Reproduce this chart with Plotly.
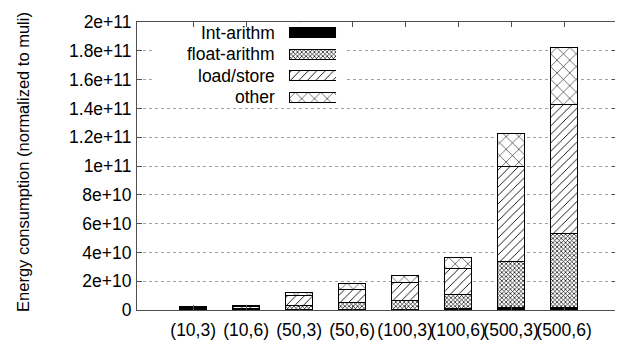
import plotly.graph_objects as go

categories = ["(10,3)", "(10,6)", "(50,3)", "(50,6)", "(100,3)", "(100,6)", "(500,3)", "(500,6)"]
int_arithm = [0.005e10, 0.008e10, 0.02e10, 0.04e10, 0.05e10, 0.08e10, 0.15e10, 0.15e10]
float_arithm = [0.065e10, 0.09e10, 0.31e10, 0.49e10, 0.64e10, 1.01e10, 3.23e10, 5.13e10]
load_store = [0.13e10, 0.15e10, 0.66e10, 0.91e10, 1.23e10, 1.78e10, 6.62e10, 9.0e10]
other = [0.055e10, 0.08e10, 0.24e10, 0.39e10, 0.51e10, 0.79e10, 2.27e10, 3.96e10]
series_names = ["Int-arithm", "float-arithm", "load/store", "other"]
y_tickvals = [0, 2e10, 4e10, 6e10, 8e10, 1e11, 1.2e11, 1.4e11, 1.6e11, 1.8e11, 2e11]
y_ticktext = ["0", "2e+10", "4e+10", "6e+10", "8e+10", "1e+11", "1.2e+11", "1.4e+11", "1.6e+11", "1.8e+11", "2e+11"]

FONT = "Liberation Sans, Arial, sans-serif"
FS = 17.5
patterns = [
    dict(shape="", fillmode="overlay"),
    dict(shape="x", size=3, solidity=0.4, fgcolor="black", bgcolor="white", fillmode="replace"),
    dict(shape="/", size=6, solidity=0.15, fgcolor="black", bgcolor="white", fillmode="replace"),
    dict(shape="x", size=9, solidity=0.12, fgcolor="black", bgcolor="white", fillmode="replace"),
]
colors = ["black", "white", "white", "white"]
data = [int_arithm, float_arithm, load_store, other]

fig = go.Figure()
for name, vals, pat, col in zip(series_names, data, patterns, colors):
    fig.add_trace(go.Bar(
        x=categories, y=vals, name=name, width=0.52,
        marker=dict(color=col, pattern=pat, line=dict(color="black", width=1)),
        showlegend=False, xaxis="x", yaxis="y",
    ))

# custom legend (text left, sample right) on an auxiliary axis pair
for i, (name, pat, col) in enumerate(zip(series_names, patterns, colors)):
    fig.add_trace(go.Bar(
        x=[1], y=[i], orientation="h", width=0.47, base=0,
        marker=dict(color=col, pattern=pat, line=dict(color="black", width=1)),
        showlegend=False, xaxis="x2", yaxis="y2", hoverinfo="skip",
    ))
    fig.add_annotation(text=name, xref="paper", yref="y2", x=0.2917, y=i,
                       xanchor="right", yanchor="middle", showarrow=False,
                       font=dict(family=FONT, size=FS, color="black"))

# opaque key background (hides grid behind the key)
fig.add_shape(type="rect", xref="x", yref="y", x0=-0.78, x1=2.86, y0=1.43e11, y1=1.99e11,
              fillcolor="white", line=dict(width=0), layer="between")

fig.add_annotation(text="Energy consumption (normalized to muli)", xref="paper", yref="paper",
                   x=-0.2375, y=0.514, textangle=-90, showarrow=False, xanchor="center",
                   yanchor="middle", font=dict(family=FONT, size=16.5, color="black"))

fig.update_layout(
    width=615, height=337,
    margin=dict(l=129, r=6, t=14, b=35, autoexpand=False),
    barmode="stack",
    plot_bgcolor="white", paper_bgcolor="white",
    font=dict(family=FONT, size=FS, color="black"),
    xaxis=dict(type="category", range=[-1.06, 8.0], ticks="inside", ticklen=5,
               tickcolor="#505050", showline=True, linecolor="#505050", linewidth=1,
               mirror="ticks", showgrid=False, tickfont=dict(size=FS), automargin=False,
               ticklabelstandoff=4, tickangle=0),
    yaxis=dict(range=[0, 2e11], tickvals=y_tickvals, ticktext=y_ticktext, ticks="inside",
               ticklen=5, tickcolor="#505050", showline=True, linecolor="#505050", linewidth=1,
               mirror="ticks", showgrid=True, gridcolor="#a0a0a0", griddash="dot", gridwidth=1,
               zeroline=False, ticklabelstandoff=1, tickfont=dict(size=FS), automargin=False),
    xaxis2=dict(domain=[0.3167, 0.4146], range=[0, 1], visible=False, anchor="y2"),
    yaxis2=dict(domain=[0.7024, 0.999], range=[3.5, -0.5], visible=False, anchor="x2"),
)

fig.write_html("out.html")
